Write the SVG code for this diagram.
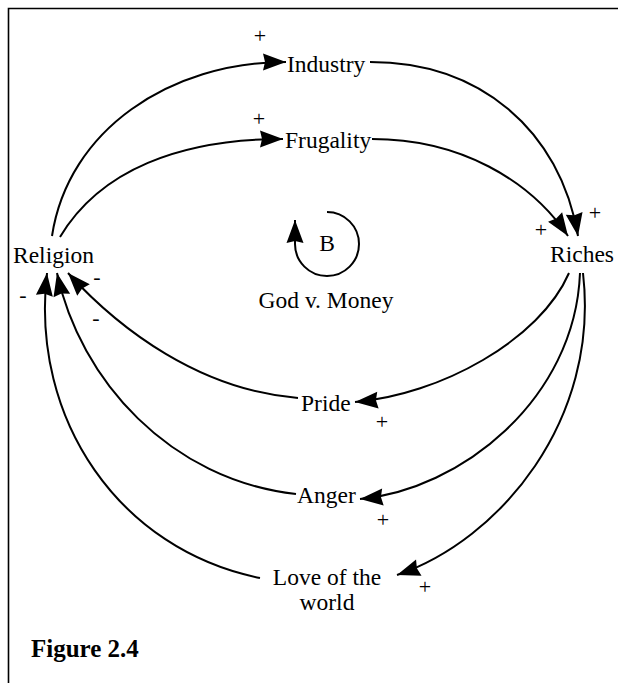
<svg xmlns="http://www.w3.org/2000/svg" width="618" height="683" viewBox="0 0 618 683">
<defs>
<marker id="ah" viewBox="-26 -11 28 22" refX="0" refY="0" markerWidth="28" markerHeight="22" markerUnits="userSpaceOnUse" orient="auto">
<path d="M0,0 L-23,-8.5 L-21,0 L-23,8.5 Z" fill="#000"/>
</marker>
</defs>
<style>
.t{font-family:"Liberation Serif","Times New Roman",serif;font-size:23.5px;fill:#000}
.s{font-family:"Liberation Serif","Times New Roman",serif;font-size:22px;fill:#000}
.c{fill:none;stroke:#000;stroke-width:2;marker-end:url(#ah)}
.fig{font-family:"Liberation Serif","Times New Roman",serif;font-size:25px;font-weight:bold;fill:#000}
</style>
<rect width="618" height="683" fill="#fff"/>
<g id="frame" stroke="#000" stroke-width="1.6" fill="none">
<path d="M618,8.5 L8.5,8.5 L8.5,683"/>
</g>
<g id="connectors">
<path class="c" d="M52,236 C68,130 170,62 286,62"/>
<path class="c" d="M370,62 C480,62 560,130 578,236"/>
<path class="c" d="M60,237 C100,170 180,139 283,139"/>
<path class="c" d="M372,139 C460,139 530,180 568,236"/>
<path class="c" d="M569,273 C540,340 440,395 355,402"/>
<path class="c" d="M298,398 C200,390 120,330 68,273"/>
<path class="c" d="M580,273 C575,400 460,490 360,499"/>
<path class="c" d="M296,494 C170,480 80,380 57,273"/>
<path class="c" d="M583,273 C600,420 500,540 397,575"/>
<path class="c" d="M260,578 C120,550 30,420 47,273"/>
</g>
<g id="loop">
<path class="c" d="M327,212 A32,32 0 1 1 295,244 L295,220"/>
<text class="t" x="327" y="251" text-anchor="middle">B</text>
<text class="t" x="326" y="308" text-anchor="middle">God v. Money</text>
</g>
<g id="religion"><text class="t" x="13" y="263">Religion</text></g>
<g id="riches"><text class="t" x="550" y="262">Riches</text></g>
<g id="industry"><text class="t" x="287" y="72">Industry</text></g>
<g id="frugality"><text class="t" x="285" y="148">Frugality</text></g>
<g id="pride"><text class="t" x="301" y="411">Pride</text></g>
<g id="anger"><text class="t" x="297" y="503">Anger</text></g>
<g id="love"><text class="t" x="327" y="585" text-anchor="middle">Love of the</text><text class="t" x="327" y="610" text-anchor="middle">world</text></g>
<g id="signs">
<text class="s" x="260" y="43" text-anchor="middle">+</text>
<text class="s" x="259" y="126" text-anchor="middle">+</text>
<text class="s" x="595" y="220" text-anchor="middle">+</text>
<text class="s" x="541" y="237" text-anchor="middle">+</text>
<text class="s" x="382" y="429" text-anchor="middle">+</text>
<text class="s" x="383" y="527" text-anchor="middle">+</text>
<text class="s" x="425" y="594" text-anchor="middle">+</text>
<text class="s" x="23" y="302" text-anchor="middle">-</text>
<text class="s" x="97" y="284" text-anchor="middle">-</text>
<text class="s" x="96" y="325" text-anchor="middle">-</text>
</g>
<g id="caption"><text class="fig" x="31" y="657">Figure 2.4</text></g>
</svg>
